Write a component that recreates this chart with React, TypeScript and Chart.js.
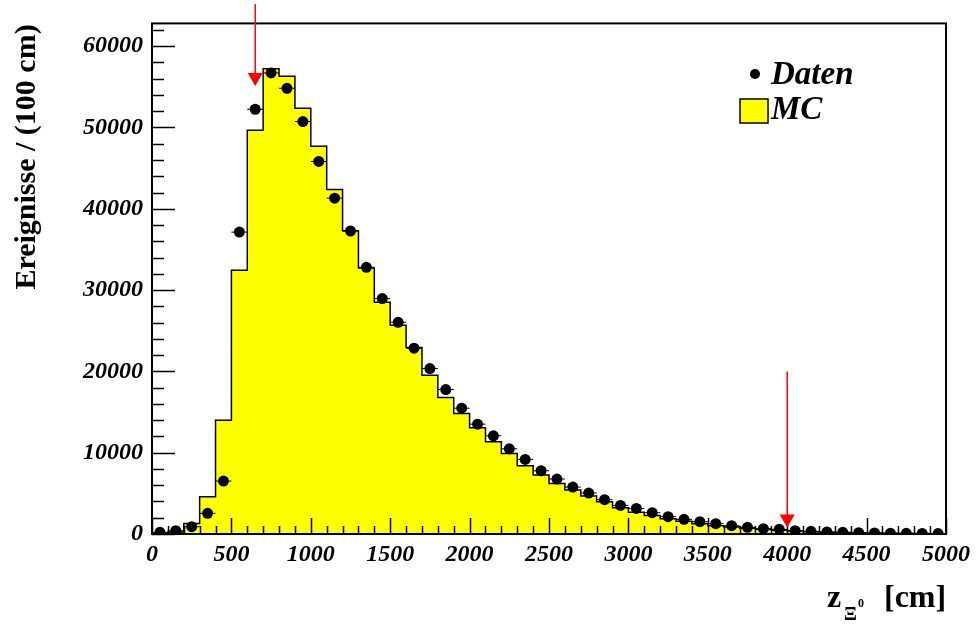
import { useEffect, useRef } from "react";
import { Chart, registerables } from "chart.js";

Chart.register(...registerables);

// ---- data (bins of 100 cm) ----
const binCenters = [
  50, 150, 250, 350, 450, 550, 650, 750, 850, 950,
  1050, 1150, 1250, 1350, 1450, 1550, 1650, 1750, 1850, 1950,
  2050, 2150, 2250, 2350, 2450, 2550, 2650, 2750, 2850, 2950,
  3050, 3150, 3250, 3350, 3450, 3550, 3650, 3750, 3850, 3950,
  4050, 4150, 4250, 4350, 4450, 4550, 4650, 4750, 4850, 4950,
];
const mcCounts = [
  50, 250, 1300, 4580, 14000, 32430, 49670, 57210, 56300, 52370,
  47700, 42380, 37310, 32720, 28500, 25670, 22930, 19530, 16790, 14820,
  13060, 11340, 9910, 8390, 7250, 6220, 5400, 4670, 3970, 3230,
  2660, 2290, 1880, 1560, 1270, 1020, 860, 700, 570, 450,
  360, 290, 230, 180, 150, 120, 90, 70, 60, 40,
];
const dataCounts = [
  200, 400, 900, 2540, 6510, 37130, 52240, 56710, 54820, 50730,
  45820, 41310, 37260, 32800, 28950, 26040, 22850, 20350, 17770, 15470,
  13510, 12080, 10480, 9170, 7780, 6760, 5770, 5040, 4220, 3520,
  3150, 2620, 2130, 1800, 1510, 1270, 1020, 820, 650, 570,
  410, 330, 250, 200, 160, 130, 100, 80, 60, 50,
];
const xTicksMajor = [0, 500, 1000, 1500, 2000, 2500, 3000, 3500, 4000, 4500, 5000];
const yTicksMajor = [0, 10000, 20000, 30000, 40000, 50000, 60000];
const arrowX = [650, 4000];
const arrowFrom = [65200, 20000];
const arrowTo = [55100, 800];
const legendLabels = ["Daten", "MC"];
const yTitle = "Ereignisse / (100 cm)";

const BIN_HALF = 50;
const X_MIN = 0;
const X_MAX = 5000;
const Y_MIN = 0;
const Y_MAX = 62800;

const serif = '"Liberation Serif", "DejaVu Serif", serif';

export default function App() {
  const ref = useRef<HTMLCanvasElement | null>(null);

  useEffect(() => {
    const canvas = ref.current;
    if (!canvas) return;

    const mcStep: { x: number; y: number }[] = [{ x: X_MIN, y: 0 }];
    binCenters.forEach((c, i) => {
      mcStep.push({ x: c - BIN_HALF, y: mcCounts[i] });
      mcStep.push({ x: c + BIN_HALF, y: mcCounts[i] });
    });
    mcStep.push({ x: X_MAX, y: 0 });

    const dataPts = binCenters.map((c, i) => ({ x: c, y: dataCounts[i] }));

    const rootPlugin = {
      id: "rootDecor",
      afterDatasetsDraw(chart: any) {
        const { ctx, scales } = chart;
        const xs = scales.x;
        const ys = scales.y;
        ctx.save();
        ctx.strokeStyle = "#000";
        ctx.lineWidth = 1;
        dataPts.forEach((p) => {
          const y = ys.getPixelForValue(p.y);
          ctx.beginPath();
          ctx.moveTo(xs.getPixelForValue(p.x - BIN_HALF), y);
          ctx.lineTo(xs.getPixelForValue(p.x + BIN_HALF), y);
          ctx.stroke();
        });
        ctx.restore();
      },
      afterDraw(chart: any) {
        const { ctx, chartArea, scales } = chart;
        const xs = scales.x;
        const ys = scales.y;
        const { left, right, top, bottom } = chartArea;
        ctx.save();

        // ticks inside the frame
        ctx.strokeStyle = "#000";
        ctx.lineWidth = 1.5;
        for (let v = 0; v <= Y_MAX; v += 2000) {
          const y = Math.round(ys.getPixelForValue(v)) + 0.5;
          const major = v % 10000 === 0;
          ctx.beginPath();
          ctx.moveTo(left, y);
          ctx.lineTo(left + (major ? 23 : 12), y);
          ctx.stroke();
        }
        for (let v = 0; v <= X_MAX; v += 100) {
          const x = Math.round(xs.getPixelForValue(v)) + 0.5;
          const major = v % 500 === 0;
          ctx.beginPath();
          ctx.moveTo(x, bottom);
          ctx.lineTo(x, bottom - (major ? 16 : 8));
          ctx.stroke();
        }

        // frame
        ctx.lineWidth = 2;
        ctx.strokeRect(left, top, right - left, bottom - top);

        // arrows
        ctx.strokeStyle = "#ff0000";
        ctx.fillStyle = "#ff0000";
        ctx.lineWidth = 1.5;
        arrowX.forEach((ax, i) => {
          const x = xs.getPixelForValue(ax);
          const y1 = ys.getPixelForValue(arrowFrom[i]);
          const y2 = ys.getPixelForValue(arrowTo[i]);
          ctx.beginPath();
          ctx.moveTo(x, y1);
          ctx.lineTo(x, y2 - 10);
          ctx.stroke();
          ctx.beginPath();
          ctx.moveTo(x - 7.5, y2 - 13);
          ctx.lineTo(x + 7.5, y2 - 13);
          ctx.lineTo(x, y2);
          ctx.closePath();
          ctx.fill();
        });

        // legend
        ctx.fillStyle = "#000";
        ctx.beginPath();
        ctx.arc(755, 74, 5, 0, Math.PI * 2);
        ctx.fill();
        ctx.font = `italic bold 33px ${serif}`;
        ctx.textBaseline = "alphabetic";
        ctx.textAlign = "left";
        ctx.fillText(legendLabels[0], 771, 84);
        ctx.fillStyle = "#ffff00";
        ctx.fillRect(740, 99, 28, 24);
        ctx.strokeStyle = "#000";
        ctx.lineWidth = 1.5;
        ctx.strokeRect(740, 99, 28, 24);
        ctx.fillStyle = "#000";
        ctx.fillText(legendLabels[1], 771, 119);

        // y title
        ctx.save();
        ctx.translate(35, 157);
        ctx.rotate(-Math.PI / 2);
        ctx.font = `bold 30px ${serif}`;
        ctx.textAlign = "center";
        ctx.fillText(yTitle, 0, 0);
        ctx.restore();

        // x title: z_{Xi^0} [cm]
        ctx.font = `bold 32px ${serif}`;
        ctx.textAlign = "left";
        ctx.fillText("z", 827, 607);
        ctx.font = `bold 19px ${serif}`;
        ctx.fillText("\u039E", 844, 620);
        ctx.font = `bold 12px ${serif}`;
        ctx.fillText("0", 858, 607);
        ctx.font = `bold 32px ${serif}`;
        ctx.fillText("[cm]", 884, 607);

        ctx.restore();
      },
    };

    const tickFont = { family: serif, size: 24, weight: "bold" as const, style: "italic" as const };

    const chart = new Chart(canvas, {
      type: "scatter",
      data: {
        datasets: [
          {
            label: legendLabels[0],
            data: dataPts,
            pointRadius: 5.5,
            pointHoverRadius: 5.5,
            pointBackgroundColor: "#000",
            pointBorderWidth: 0,
            borderColor: "#000",
            showLine: false,
            order: 1,
          },
          {
            label: legendLabels[1],
            data: mcStep,
            showLine: true,
            fill: "origin",
            backgroundColor: "#ffff00",
            borderColor: "#000",
            borderWidth: 1.5,
            pointRadius: 0,
            tension: 0,
            order: 2,
          } as any,
        ],
      },
      options: {
        animation: false,
        responsive: false,
        maintainAspectRatio: false,
        events: [],
        layout: { padding: { left: 0, top: 22, right: 30, bottom: 0 } },
        plugins: { legend: { display: false }, tooltip: { enabled: false } },
        scales: {
          x: {
            type: "linear",
            min: X_MIN,
            max: X_MAX,
            grid: { display: false, drawTicks: false },
            border: { display: false },
            afterFit: (s: any) => {
              s.height = 92;
            },
            afterBuildTicks: (s: any) => {
              s.ticks = xTicksMajor.map((v) => ({ value: v }));
            },
            ticks: {
              autoSkip: false,
              maxRotation: 0,
              padding: 6,
              color: "#000",
              font: tickFont,
              callback: (v: any) => String(v),
            },
          },
          y: {
            type: "linear",
            min: Y_MIN,
            max: Y_MAX,
            grid: { display: false, drawTicks: false },
            border: { display: false },
            afterFit: (s: any) => {
              s.width = 152;
            },
            afterBuildTicks: (s: any) => {
              s.ticks = yTicksMajor.map((v) => ({ value: v }));
            },
            ticks: {
              padding: 9,
              color: "#000",
              font: tickFont,
              callback: (v: any) => String(v),
            },
          },
        },
      },
      plugins: [rootPlugin],
    });

    return () => chart.destroy();
  }, []);

  return (
    <div style={{ position: "fixed", left: 0, top: 0, width: 976, height: 626, background: "#fff" }}>
      <canvas ref={ref} width={976} height={626} style={{ width: 976, height: 626 }} />
    </div>
  );
}
